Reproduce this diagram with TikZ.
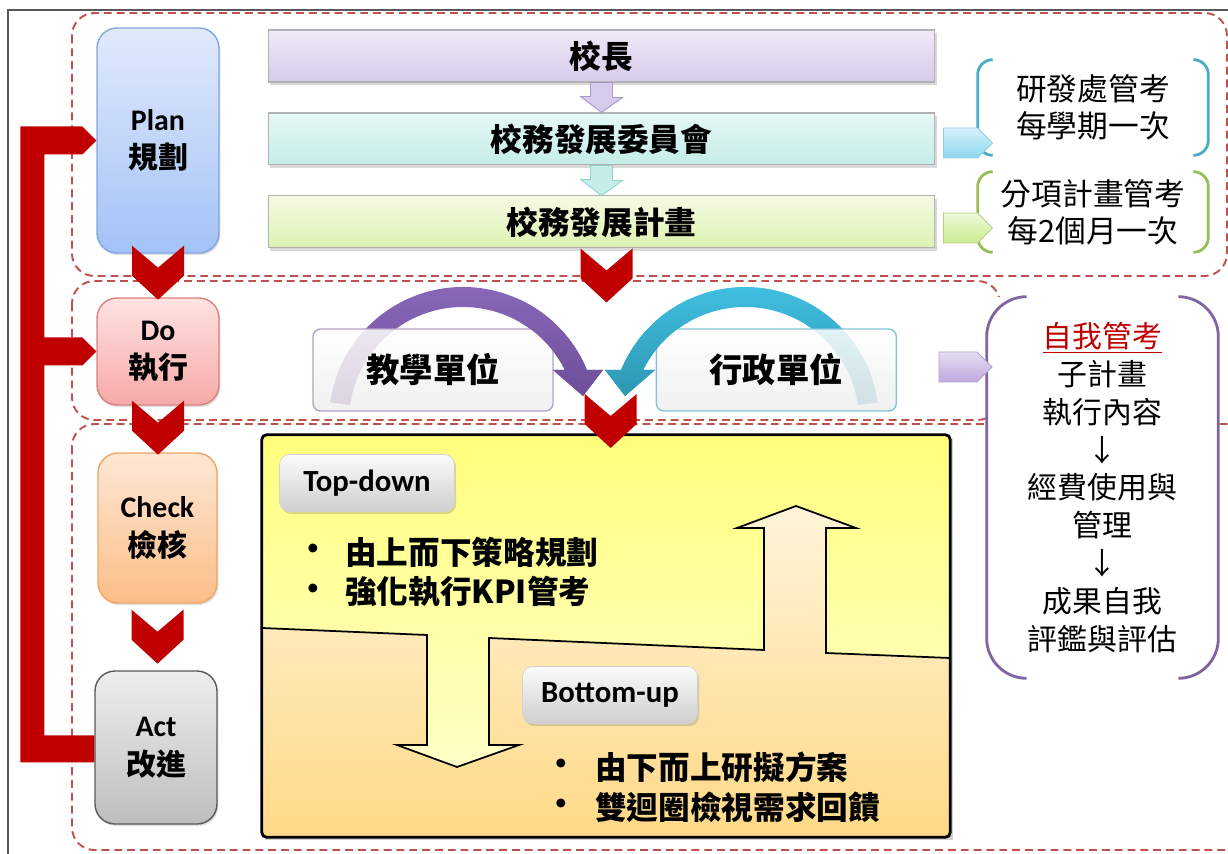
\documentclass[tikz,border=0pt]{standalone}
\usepackage{fontspec}
\setmainfont{Noto Sans CJK TC}
\newfontfamily\latf{Carlito}
\usepackage{tikz}
\usetikzlibrary{positioning, calc, shadows}
\definecolor{dashred}{HTML}{C0504D}
\definecolor{chevred}{HTML}{C00000}
\definecolor{titlered}{HTML}{C00000}
\definecolor{plantop}{HTML}{E1EAFB}
\definecolor{planbot}{HTML}{A3C2F7}
\definecolor{planline}{HTML}{7EA6E0}
\definecolor{dotop}{HTML}{FFE2E2}
\definecolor{dobot}{HTML}{F7A9A9}
\definecolor{doline}{HTML}{D9817F}
\definecolor{checktop}{HTML}{FEE7D4}
\definecolor{checkbot}{HTML}{FBBE88}
\definecolor{checkline}{HTML}{F3A462}
\definecolor{acttop}{HTML}{EEEEEE}
\definecolor{actbot}{HTML}{BEBEBE}
\definecolor{actline}{HTML}{595959}
\definecolor{headtop}{HTML}{EFE9F7}
\definecolor{headbot}{HTML}{D6CBEA}
\definecolor{headline}{HTML}{A897CC}
\definecolor{comtop}{HTML}{E6F8F6}
\definecolor{combot}{HTML}{C5EDE9}
\definecolor{comline}{HTML}{8FD3CB}
\definecolor{doctop}{HTML}{F5FBE3}
\definecolor{docbot}{HTML}{DCF3B2}
\definecolor{cbpurple}{HTML}{8064A2}
\definecolor{cbblue}{HTML}{4BACC6}
\definecolor{cbgreen}{HTML}{9BBB59}
\definecolor{tabbluetop}{HTML}{D4F2FB}
\definecolor{tabbluebot}{HTML}{8ED7F0}
\definecolor{tabgreentop}{HTML}{EEF9DA}
\definecolor{tabgreenbot}{HTML}{C9EC90}
\definecolor{tabpurpletop}{HTML}{E6DDF3}
\definecolor{tabpurplebot}{HTML}{BFA9DE}
\definecolor{arcpurple}{HTML}{8A69BC}
\definecolor{arcpurpledk}{HTML}{6B4C95}
\definecolor{arcblue}{HTML}{41C2E4}
\definecolor{arcbluedk}{HTML}{2B93AF}
\definecolor{yeltop}{HTML}{FFFF7C}
\definecolor{yelbot}{HTML}{FFFFD8}
\definecolor{orgtop}{HTML}{FFF4DA}
\definecolor{orgbot}{HTML}{FFD986}
\tikzstyle{regionbox} = [draw=dashred, line width=1.1pt, dash pattern=on 4.5pt off 2.8pt, rounded corners=0.45cm]
\tikzstyle{phasebox} = [rectangle, rounded corners=0.4cm, minimum width=2.44cm, align=center, line width=0.8pt,
font=\fontsize{17}{22}\selectfont\bfseries, drop shadow={opacity=0.25, shadow xshift=0.8pt, shadow yshift=-1.2pt}]
\tikzstyle{levelbox} = [rectangle, minimum width=13.34cm, minimum height=1.04cm, draw=gray!60, line width=0.6pt,
font=\fontsize{18}{22}\selectfont\bfseries, drop shadow={opacity=0.3, shadow xshift=1pt, shadow yshift=-1.5pt}]
\tikzstyle{unitbox} = [rectangle, rounded corners=0.15cm, minimum width=4.8cm, minimum height=1.64cm, top color=white,
bottom color=gray!14, fill opacity=0.85, text opacity=1, line width=0.8pt, font=\fontsize{19}{22}\selectfont\bfseries]
\tikzstyle{notebox} = [rectangle, align=center, minimum width=4.6cm, inner sep=0pt, font=\fontsize{17.5}{21}\selectfont]
\tikzstyle{bracket} = [line width=1.6pt, rounded corners=0.3cm]
\tikzstyle{tagbox} = [rectangle, rounded corners=0.2cm, minimum width=3.5cm, minimum height=1.14cm, top color=gray!3,
bottom color=gray!38, draw=gray!35, font=\latf\fontsize{17.5}{20}\selectfont\bfseries,
drop shadow={opacity=0.3, shadow xshift=1pt, shadow yshift=-1.5pt}]
\tikzstyle{dotnode} = [inner sep=0pt, font=\fontsize{18}{22}\selectfont\bfseries]
\tikzstyle{itemtext} = [inner sep=0pt, anchor=west, font=\fontsize{18}{22}\selectfont\bfseries]
\tikzstyle{panel} = [rectangle, minimum width=13.76cm, minimum height=8.04cm, inner sep=0pt, top color=yeltop,
bottom color=yelbot, drop shadow={opacity=0.35, shadow xshift=1.5pt, shadow yshift=-2pt}]
\tikzset{chevron/.pic={\fill[chevred] (-26,0) -- (0,22) -- (26,0) -- (26,30) -- (0,54) -- (-26,30) -- cycle;}}
\newcommand{\unitarcs}{%
\path[top color=arcpurple, bottom color=arcpurpledk] ($(463,421)+(188:134)$) arc[start angle=188, end angle=337.6, radius=134]
 -- (603,370) -- (583,396) -- (553,370) -- ($(463,421)+(333.4:114)$) arc[start angle=333.4, end angle=188, radius=114] -- cycle;
\path[top color=arcblue, bottom color=arcbluedk] ($(745,421)+(352:134)$) arc[start angle=352, end angle=202.4, radius=134]
 -- (605,370) -- (625,396) -- (655,370) -- ($(745,421)+(206.6:114)$) arc[start angle=206.6, end angle=352, radius=114] -- cycle;}

\begin{document}
\begin{tikzpicture}[x=0.02cm, y=-0.02cm, node distance=1.66cm]
\useasboundingbox (0,0) rectangle (1228,854);
\clip (0,0) rectangle (1228,854);

% ------------------------- frames -------------------------
\draw[black!65, line width=0.6pt] (8,870) -- (8,10) -- (1240,10);
\draw[regionbox] (72,13) rectangle (1227,276);
\draw[regionbox] (72,281) rectangle (1000,420);
\draw[regionbox] (72,424) rectangle (1250,850);

% ------------------------- nodes -------------------------

% ----- node: 0
\node(0)[phasebox, minimum height=4.5cm, top color=plantop, bottom color=planbot, draw=planline] at (158,140.5) {{\latf Plan}\\規劃};
% ----- node: 1
\node(1)[phasebox, minimum height=2.14cm, top color=dotop, bottom color=dobot, draw=doline] at (158,351.5) {{\latf Do}\\執行};
% ----- node: 2
\node(2)[phasebox, minimum width=2.38cm, minimum height=3cm, top color=checktop, bottom color=checkbot, draw=checkline] at (157.5,528) {{\latf Check}\\檢核};
% ----- node: 3
\node(3)[phasebox, minimum height=3.06cm, top color=acttop, bottom color=actbot, draw=actline] at (156,747.5) {{\latf Act}\\改進};

% ----- node: 4
\node(4)[levelbox, top color=headtop, bottom color=headbot] at (601.5,56) {校長};
% ----- node: 5
\node(5)[levelbox, below of=4, top color=comtop, bottom color=combot] {校務發展委員會};
% ----- node: 6
\node(6)[levelbox, below of=5, top color=doctop, bottom color=docbot] {校務發展計畫};

% ----- node: 9
\node(9)[notebox, minimum height=1.9cm] at (1093,107.5) {研發處管考\\每學期一次};
% ----- node: 10
\node(10)[notebox, minimum height=1.6cm] at (1093,212) {分項計畫管考\\每2個月一次};

% ----- arcs behind the units
\unitarcs
% ----- node: 7
\node(7)[unitbox, draw=cbpurple!60] at (433,370) {教學單位};
% ----- node: 8
\node(8)[unitbox, draw=cbblue!70, right=2.04cm of 7] {行政單位};
\begin{scope}
\clip (520,280) rectangle (688,420);
\unitarcs
\end{scope}

% ----- node: 11
\node(11)[notebox, fill=white, minimum width=4.62cm, minimum height=7.62cm, font=\fontsize{17}{21.5}\selectfont] at (1102.5,487.5)
{{\color{titlered}\underline{自我管考}}\\子計畫\\執行內容\\↓\\經費使用與\\管理\\↓\\成果自我\\評鑑與評估};

% ----- node: 12
\node(12)[panel] at (606,636) {};
\fill[top color=orgtop, bottom color=orgbot] (262,628) -- (427,635) -- (427,745) -- (397,745) -- (457,767) -- (519,745) -- (489,745)
 -- (489,638) -- (764,650) -- (764,528) -- (737,528) -- (796,506) -- (856,528) -- (826,528) -- (826,653) -- (950,658)
 -- (950,837) -- (262,837) -- cycle;
\draw[line width=1pt] (262,628) -- (427,635) -- (427,745) -- (397,745) -- (457,767) -- (519,745) -- (489,745)
 -- (489,638) -- (764,650) -- (764,528) -- (737,528) -- (796,506) -- (856,528) -- (826,528) -- (826,653) -- (950,658);
\draw[line width=1.6pt, rounded corners=0.1cm] (12.north west) rectangle (12.south east);
% ----- node: 13
\node(13)[tagbox] at (367,483) {Top-down};
% ----- node: 14
\node(14)[tagbox] at (610,695) {Bottom-up};
% ----- node: 15-22
\node(15)[dotnode] at (313,552) {•};
\node(16)[itemtext] at (345,552) {由上而下策略規劃};
\node(17)[dotnode] at (313,592) {•};
\node(18)[itemtext] at (345,592) {強化執行KPI管考};
\node(19)[dotnode] at (561,767) {•};
\node(20)[itemtext] at (595,767) {由下而上研擬方案};
\node(21)[dotnode] at (561,807) {•};
\node(22)[itemtext] at (595,807) {雙迴圈檢視需求回饋};

% ------------------------- connectors -------------------------

% ----- brackets
\draw[bracket, cbblue] ($(9.north west)+(15,0)$) -- (9.north west) -- (9.south west) -- ($(9.south west)+(15,0)$);
\draw[bracket, cbblue] ($(9.north east)+(-15,0)$) -- (9.north east) -- (9.south east) -- ($(9.south east)+(-15,0)$);
\draw[bracket, cbgreen] ($(10.north west)+(15,0)$) -- (10.north west) -- (10.south west) -- ($(10.south west)+(15,0)$);
\draw[bracket, cbgreen] ($(10.north east)+(-15,0)$) -- (10.north east) -- (10.south east) -- ($(10.south east)+(-15,0)$);
\draw[bracket, cbpurple, rounded corners=0.8cm] ($(11.north west)+(40,0)$) -- (11.north west) -- (11.south west) -- ($(11.south west)+(40,0)$);
\draw[bracket, cbpurple, rounded corners=0.8cm] ($(11.north east)+(-40,0)$) -- (11.north east) -- (11.south east) -- ($(11.south east)+(-40,0)$);

% ----- block arrows
\path[fill=headbot, draw=headline, line width=0.5pt] ($(4.south)+(-11,0)$) -- ++(22,0) -- ++(0,15) -- ++(10,0) -- (5.north) -- ++(-21,-16) -- ++(10,0) -- cycle;
\path[fill=combot, draw=comline, line width=0.5pt] ($(5.south)+(-11,0)$) -- ++(22,0) -- ++(0,15) -- ++(10,0) -- (6.north) -- ++(-21,-16) -- ++(10,0) -- cycle;
\path[top color=tabbluetop, bottom color=tabbluebot, draw=cbblue!60, line width=0.5pt] ($(5.east)+(8,-11)$) -- ++(34,0) -- ++(15,15) -- ++(-15,15) -- ++(-34,0) -- cycle;
\path[top color=tabgreentop, bottom color=tabgreenbot, draw=cbgreen!70, line width=0.5pt] ($(6.east)+(8,-9)$) -- ++(34,0) -- ++(15,15) -- ++(-15,15) -- ++(-34,0) -- cycle;
\path[top color=tabpurpletop, bottom color=tabpurplebot, draw=cbpurple!60, line width=0.5pt] ($(8.east)+(42,-18)$) -- ++(38,0) -- ++(15,15) -- ++(-15,15) -- ++(-38,0) -- cycle;

% ----- chevrons
\pic at ($(0.south)+(0,-8)$) {chevron};
\pic at ($(1.south)+(0,-5)$) {chevron};
\pic at ($(2.south)+(0,6)$) {chevron};
\pic at ($(6.south)+(5,0)$) {chevron};
\pic at ($(7.east)!0.5!(8.west)+(6,24)$) {chevron};

% ----- feedback line
\coordinate (fbtop) at ($(0.west)+(-76,-14)$);
\coordinate (fbbot) at ($(3.west)+(0,15)$);
\fill[chevred] (fbtop) -- ($(0.west)+(-14,-14)$) -- (0.west) -- ($(0.west)+(-14,14)$) -- ($(0.west)+(-52,14)$)
 -- ($(1.west)+(-52,-14)$) -- ($(1.west)+(-14,-14)$) -- (1.west) -- ($(1.west)+(-14,14)$) -- ($(1.west)+(-52,14)$)
 -- ($(3.west)+(-50,-12)$) -- ($(3.west)+(0,-12)$) -- (fbbot) -- (fbtop |- fbbot) -- cycle;

\end{tikzpicture}
\end{document}
